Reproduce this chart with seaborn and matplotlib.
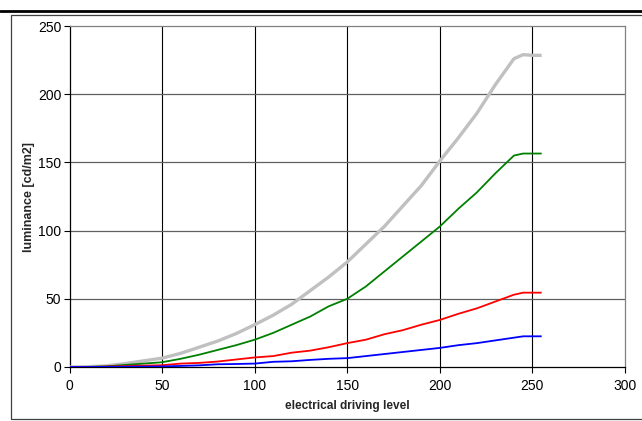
import matplotlib
matplotlib.use("Agg")
import matplotlib.pyplot as plt
import seaborn as sns
import pandas as pd
from matplotlib.lines import Line2D
from matplotlib.patches import Rectangle

# ---- data ----
levels = [0, 10, 20, 30, 40, 50, 60, 70, 80, 90, 100, 110, 120, 130, 140, 150,
          160, 170, 180, 190, 200, 210, 220, 230, 240, 245, 250, 255]
white_lum = [0, 0.2, 0.8, 2.5, 4.5, 6.5, 10, 14.5, 19, 24.5, 31, 38, 46, 56, 66, 77,
             90, 103, 118, 133, 151, 168, 186, 207, 226, 229, 228.5, 228.5]
green_lum = [0, 0.1, 0.5, 1.5, 2.5, 3.5, 6, 9, 12.5, 16, 20, 25, 31, 37, 44.5, 50,
             59, 70, 81, 92, 103, 116, 128, 142, 155, 156.5, 156.5, 156.5]
red_lum = [0, 0, 0.3, 0.7, 1, 1.3, 2.5, 3, 4, 5.5, 7, 8, 10.5, 12, 14.5, 17.5,
           20, 24, 27, 31, 34.5, 39, 43, 48, 53, 54.5, 54.5, 54.5]
blue_lum = [0, 0, 0.1, 0.2, 0.3, 0.4, 0.8, 1.2, 2, 2.2, 2.5, 3.8, 4.2, 5.2, 6, 6.5,
            8, 9.5, 11, 12.5, 14, 16, 17.5, 19.5, 21.5, 22.5, 22.5, 22.5]
x_ticks = [0, 50, 100, 150, 200, 250, 300]
y_ticks = [0, 50, 100, 150, 200, 250]

series = [("white", white_lum, "#c0c0c0", 2.4),
          ("green", green_lum, "#008000", 1.3),
          ("red", red_lum, "#ff0000", 1.3),
          ("blue", blue_lum, "#0000ff", 1.3)]

sns.set_theme(style="white")
plt.rcParams["font.family"] = ["Liberation Sans", "DejaVu Sans"]

fig = plt.figure(figsize=(6.42, 4.21), dpi=100)
ax = fig.add_axes([69.5 / 642, 1 - 367 / 421, (625 - 69.5) / 642, (367 - 26) / 421])

for name, vals, col, lw in series:
    df = pd.DataFrame({"level": levels, "lum": vals})
    sns.lineplot(data=df, x="level", y="lum", color=col, linewidth=lw, ax=ax,
                 solid_capstyle="butt", zorder=3)

ax.set_xlim(0, 300)
ax.set_ylim(0, 250)
ax.set_xticks(x_ticks)
ax.set_yticks(y_ticks)
ax.tick_params(axis="both", which="major", direction="out", length=4, width=0.8,
               color="black", labelsize=10, labelcolor="black", pad=5)
ax.tick_params(axis="y", pad=2)
ax.tick_params(bottom=True, left=True)

for v in x_ticks[1:-1]:
    ax.axvline(v, color="#000000", lw=0.8, zorder=1)
for v in y_ticks[1:-1]:
    ax.axhline(v, color="#606060", lw=0.9, zorder=1)

for s in ["left", "bottom"]:
    ax.spines[s].set_color("black")
    ax.spines[s].set_linewidth(0.9)
for s in ["top", "right"]:
    ax.spines[s].set_color("#808080")
    ax.spines[s].set_linewidth(0.9)

ax.set_xlabel("electrical driving level", fontsize=8.6, fontweight="bold", labelpad=5)
ax.set_ylabel("luminance [cd/m2]", fontsize=9, fontweight="bold", labelpad=2)

# outer frame and top rule
fig.patches.append(Rectangle((11 / 642, 1 - 419 / 421), 2, (419 - 15) / 421,
                             transform=fig.transFigure, fill=False,
                             edgecolor="#404040", lw=0.9))
fig.lines.append(Line2D([0, 1], [1 - 11 / 421, 1 - 11 / 421], transform=fig.transFigure,
                        color="black", lw=2.0))

fig.savefig("out.png", dpi=100)
